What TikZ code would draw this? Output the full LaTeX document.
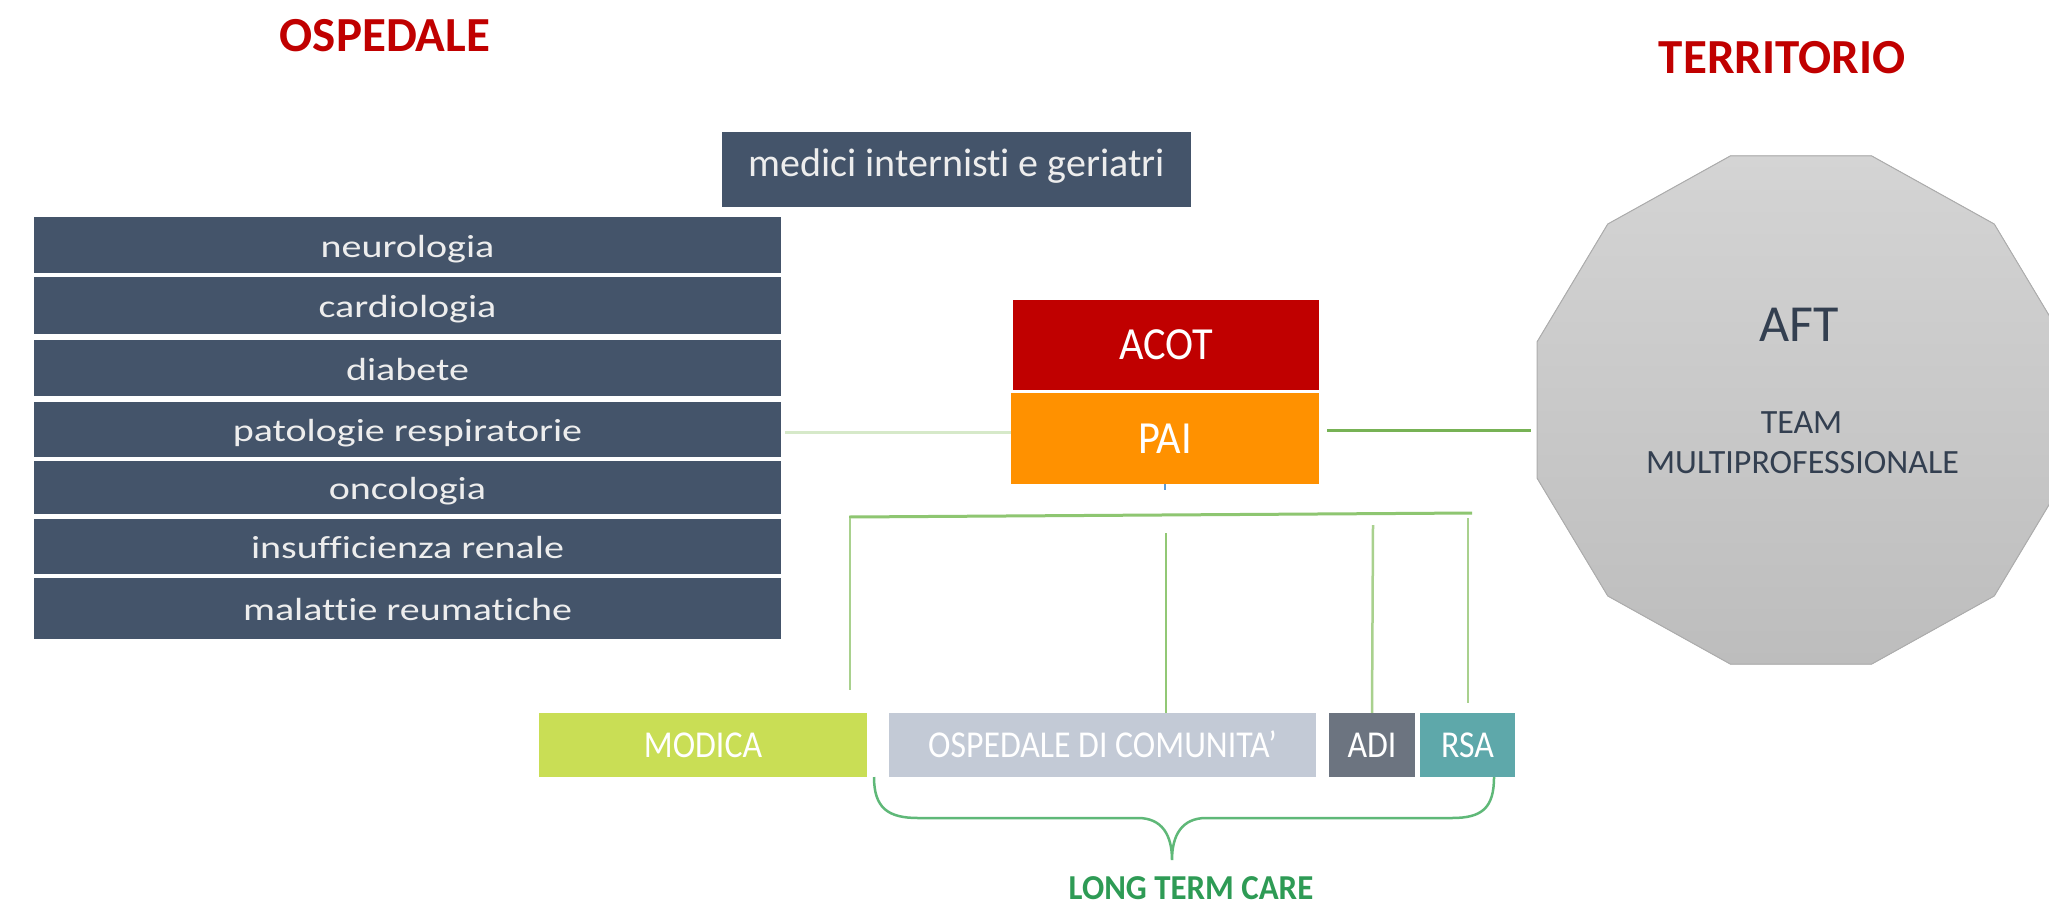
\documentclass[tikz,border=0pt]{standalone}
\usepackage{fontspec}
\setmainfont{Carlito}[Ligatures={NoCommon,NoContextual}]
\newfontfamily\listfont{Carlito}[FakeStretch=1.25, Ligatures={NoCommon,NoContextual}]
\newfontfamily\narrowfont{Carlito}[FakeStretch=0.89, Ligatures={NoCommon,NoContextual}]
\newfontfamily\capfont{Carlito}[FakeStretch=0.92, Ligatures={NoCommon,NoContextual}]
\newfontfamily\ltcfont{Carlito}[FakeStretch=0.94, Ligatures={NoCommon,NoContextual}]
\usetikzlibrary{calc}
\definecolor{boxblue}{HTML}{44546A}
\definecolor{boxtext}{HTML}{EDEDED}
\definecolor{titlered}{HTML}{C00000}
\definecolor{acotred}{HTML}{C00000}
\definecolor{paiorange}{HTML}{FF9100}
\definecolor{modicagreen}{HTML}{C9DE55}
\definecolor{odcgray}{HTML}{C3CAD6}
\definecolor{adigray}{HTML}{6C7480}
\definecolor{rsateal}{HTML}{5EA8AA}
\definecolor{aftdark}{HTML}{333F50}
\definecolor{afttop}{HTML}{D4D4D4}
\definecolor{aftbot}{HTML}{BDBDBD}
\definecolor{aftedge}{HTML}{ADADAD}
\definecolor{ltcgreen}{HTML}{2E9B55}
\definecolor{linepale}{HTML}{D6E9C9}
\definecolor{linegreen}{HTML}{77B255}
\definecolor{linebus}{HTML}{8EC671}
\definecolor{linelight}{HTML}{A9D18E}
\definecolor{bracegreen}{HTML}{5FB878}
\definecolor{ticksblue}{HTML}{5B9BD5}
\begin{document}
\begin{tikzpicture}[x=1pt,y=-1pt,
  titletext/.style={text=titlered, inner sep=0pt, font=\fontsize{49}{58}\selectfont\bfseries, text height=31pt, text depth=0pt},
  darkrow/.style={fill=boxblue, text=boxtext, inner sep=0pt, minimum width=747pt,
     font=\listfont\fontsize{32}{38}\selectfont, text height=24pt, text depth=0pt},
  medbox/.style={fill=boxblue, text=boxtext, inner sep=0pt, minimum width=469pt, minimum height=75pt,
     font=\fontsize{40}{48}\selectfont, text height=14.4pt, text depth=0pt},
  capbox/.style={text=white, inner sep=0pt, font=\capfont\fontsize{46}{55}\selectfont, text height=29pt, text depth=0pt},
  lowbox/.style={text=white, inner sep=0pt, minimum height=64pt, font=\narrowfont\fontsize{38}{46}\selectfont, text height=24pt, text depth=0pt},
  afttext/.style={text=aftdark, inner sep=0pt, text depth=0pt},
  paleline/.style={draw=linepale, line width=3pt},
  greenline/.style={draw=linegreen, line width=3pt},
  busline/.style={draw=linebus, line width=3pt},
  vline/.style={draw=linelight, line width=2.5pt},
  bracestyle/.style={draw=bracegreen, line width=2.5pt},
  aftshape/.style={top color=afttop, bottom color=aftbot, draw=aftedge, line width=1pt}
]
\useasboundingbox[fill=white] (0,0) rectangle (2049,905);

% titles
\node[titletext] (osp) at (385,36) {OSPEDALE};
\node[titletext] (terr) at (1782,58) {TERRITORIO};

% top box
\node[medbox] (medici) at (956.5,169.5) {medici internisti e geriatri};

% list of specialties
\node[darkrow, minimum height=56pt] (neuro) at (407.5,245) {neurologia};
\node[darkrow, minimum height=57pt] (cardio) at (407.5,305.5) {cardiologia};
\node[darkrow, minimum height=56pt] (diab) at (407.5,368) {diabete};
\node[darkrow, minimum height=55pt] (pato) at (407.5,429.5) {patologie respiratorie};
\node[darkrow, minimum height=53pt] (onco) at (407.5,487) {oncologia};
\node[darkrow, minimum height=55pt] (insuf) at (407.5,546.5) {insufficienza renale};
\node[darkrow, minimum height=61pt] (malat) at (407.5,608.5) {malattie reumatiche};

% ACOT / PAI
\node[capbox, fill=acotred, minimum width=306pt, minimum height=90pt] (acot) at (1166,345) {ACOT};
\node[capbox, fill=paiorange, minimum width=308pt, minimum height=91pt] (pai) at (1165,438.5) {PAI};

% AFT dodecagon
\node[minimum width=528pt, minimum height=508pt, inner sep=0pt] (aft) at (1801,410) {};
\filldraw[aftshape, shift={(aft.center)}] (15:273.3 and 263)
   \foreach \a in {45,75,...,345} { -- (\a:273.3 and 263)} -- cycle;
\node[afttext, font=\fontsize{52}{60}\selectfont, text height=32pt] (afttitle) at (1799,325.5) {AFT};
\node[afttext, font=\fontsize{34}{40}\selectfont, text height=21.5pt] (team) at (1801.5,422.5) {TEAM};
\node[afttext, font=\fontsize{34}{40}\selectfont, text height=21.5pt] (multi) at (1802.5,463) {MULTIPROFESSIONALE};

% bottom boxes
\node[lowbox, fill=modicagreen, minimum width=328pt] (mod) at (703,745) {MODICA};
\node[lowbox, fill=odcgray, minimum width=427pt] (odc) at (1102.5,745) {OSPEDALE DI COMUNITA’};
\node[lowbox, fill=adigray, minimum width=86pt] (adi) at (1372,745) {ADI};
\node[lowbox, fill=rsateal, minimum width=95pt] (rsa) at (1467.5,745) {RSA};

% connectors
\coordinate (lline) at (0,432);
\coordinate (rline) at (0,430);
\draw[paleline, shorten <=4pt] (pato.east |- lline) -- (pai.west |- lline);
\draw[greenline, shorten <=8pt, shorten >=6pt] (pai.east |- rline) -- (aft.west |- rline);
\draw[draw=ticksblue, line width=1.5pt] (pai.south) -- ++(0,6);

\coordinate (busL) at (849,517);
\coordinate (busR) at (1472,513);
\draw[busline] (busL) -- (busR);

\coordinate (v1top) at (850,518);
\coordinate (v2top) at (1166,533);
\coordinate (v3top) at (1373,525);
\coordinate (v4top) at (1468,518);
\draw[vline, shorten >=23pt] (v1top) -- (v1top |- mod.north);
\draw[vline, draw=linebus!85!linelight] (v2top) -- (v2top |- odc.north);
\draw[vline] (v3top) -- (adi.north);
\draw[vline, shorten >=10pt] (v4top) -- (v4top |- rsa.north);

% brace
\draw[bracestyle] (874,777) .. controls (874,808) and (888,818) .. (918,818)
   -- (1138,818) .. controls (1162,818) and (1172,835) .. (1172,860)
   .. controls (1172,835) and (1182,818) .. (1206,818)
   -- (1452,818) .. controls (1482,818) and (1494,808) .. (1494,777);
\node[inner sep=0pt, text=ltcgreen, font=\ltcfont\fontsize{35}{42}\selectfont\bfseries, text height=22pt, text depth=0pt] (ltc) at (1191,888.5) {LONG TERM CARE};
\end{tikzpicture}
\end{document}
